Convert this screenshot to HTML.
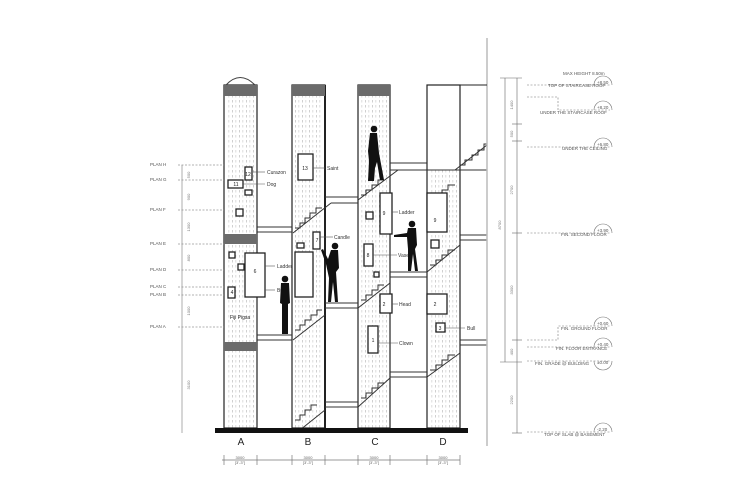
<!DOCTYPE html>
<html><head><meta charset="utf-8"><style>
html,body{margin:0;padding:0;background:#fff;width:750px;height:500px;overflow:hidden}
svg{display:block;font-family:"Liberation Sans",sans-serif}
</style></head><body>
<svg width="750" height="500" viewBox="0 0 750 500">
<defs>
<pattern id="dots" width="7" height="5" patternUnits="userSpaceOnUse">
<rect x="1" y="0" width=".7" height="2.5" fill="#bbb"/><rect x="4.5" y="0" width=".7" height="2.5" fill="#ccc"/>
</pattern>
</defs>
<g>
<rect x="227" y="96" width="28" height="332" fill="url(#dots)"/>
<rect x="295" y="96" width="28" height="332" fill="url(#dots)"/>
<rect x="361" y="96" width="27" height="332" fill="url(#dots)"/>
<rect x="430" y="170" width="28" height="258" fill="url(#dots)"/>
</g>
<g fill="none" stroke="#222" stroke-width="1.2">
<rect x="224" y="85" width="33" height="343"/>
<rect x="292" y="85" width="33" height="343"/>
<rect x="358" y="85" width="32" height="343"/>
<rect x="427" y="85" width="33" height="343"/>
</g>
<line x1="325" y1="85" x2="325" y2="428" stroke="#222" stroke-width="2"/>
<rect x="428" y="86" width="31" height="80" fill="#fff"/>
<path d="M226 85 Q240 70 255 85" fill="none" stroke="#444"/>
<g fill="#6b6b6b">
<rect x="224" y="85" width="33" height="11"/><rect x="292" y="85" width="33" height="11"/><rect x="358" y="85" width="32" height="11"/>
<rect x="224" y="234" width="33" height="10"/><rect x="224" y="342" width="33" height="9"/>
</g>
<g stroke="#333" stroke-width="1" fill="none">
<line x1="257" y1="227" x2="292" y2="227"/><line x1="257" y1="232" x2="292" y2="232"/>
<line x1="293" y1="233" x2="331" y2="203"/><line x1="331" y1="203" x2="358" y2="203"/>
<line x1="325" y1="197" x2="358" y2="197"/>
<line x1="358" y1="200" x2="398" y2="170"/><line x1="390" y1="170" x2="487" y2="170"/>
<line x1="390" y1="163" x2="427" y2="163"/>
<line x1="455" y1="170" x2="487" y2="145"/>
<polyline points="460,165 465,165 465,160 472,160 472,155 478,155 478,150 484,150 484,144 487,144"/>
<polyline points="295,228 300,228 300,223 305,223 305,218 310,218 310,213 316,213 316,208 322,208"/>
<polyline points="361,195 366,195 366,190 372,190 372,185 378,185 378,180 384,180"/>
<polyline points="430,200 436,200 436,195 442,195 442,190 448,190 448,185 455,185"/>
<line x1="257" y1="335" x2="292" y2="335"/><line x1="257" y1="340" x2="292" y2="340"/>
<line x1="293" y1="340" x2="325" y2="315"/>
<polyline points="295,330 300,330 300,325 305,325 305,320 311,320 311,315 317,315 317,310 322,310"/>
<line x1="325" y1="303" x2="358" y2="303"/><line x1="325" y1="308" x2="358" y2="308"/>
<line x1="358" y1="308" x2="390" y2="283"/>
<polyline points="361,300 366,300 366,295 372,295 372,290 378,290 378,285 384,285"/>
<line x1="390" y1="272" x2="427" y2="272"/><line x1="390" y1="277" x2="427" y2="277"/>
<line x1="427" y1="272" x2="460" y2="245"/>
<polyline points="430,265 436,265 436,260 442,260 442,255 448,255 448,250 455,250"/>
<line x1="460" y1="240" x2="487" y2="240"/><line x1="460" y1="235" x2="487" y2="235"/>
<line x1="300" y1="430" x2="325" y2="410"/>
<polyline points="295,420 300,420 300,415 305,415 305,410 311,410 311,405 317,405"/>
<line x1="325" y1="402" x2="358" y2="402"/><line x1="325" y1="407" x2="358" y2="407"/>
<line x1="358" y1="407" x2="390" y2="378"/>
<polyline points="361,398 366,398 366,393 372,393 372,388 378,388 378,383 384,383"/>
<line x1="390" y1="372" x2="427" y2="372"/><line x1="390" y1="377" x2="427" y2="377"/>
<line x1="427" y1="377" x2="460" y2="353"/>
<polyline points="430,370 436,370 436,365 442,365 442,360 448,360 448,355 455,355"/>
<line x1="460" y1="340" x2="487" y2="340"/><line x1="460" y1="345" x2="487" y2="345"/>
</g>
<g fill="#fff" stroke="#222" stroke-width="1.3">
<rect x="245" y="167" width="7" height="13"/><rect x="228" y="180" width="15" height="8"/><rect x="245" y="190" width="7" height="5"/>
<rect x="236" y="209" width="7" height="7"/><rect x="229" y="252" width="6" height="6"/>
<rect x="245" y="253" width="20" height="44"/><rect x="238" y="264" width="6" height="6"/><rect x="228" y="287" width="7" height="11"/>
<rect x="298" y="154" width="15" height="26"/><rect x="313" y="232" width="7" height="17"/><rect x="297" y="243" width="7" height="5"/>
<rect x="295" y="252" width="18" height="45"/>
<rect x="380" y="193" width="12" height="41"/><rect x="366" y="212" width="7" height="7"/><rect x="364" y="244" width="9" height="22"/>
<rect x="374" y="272" width="5" height="5"/><rect x="380" y="294" width="12" height="19"/><rect x="368" y="326" width="10" height="27"/>
<rect x="427" y="193" width="20" height="39"/><rect x="431" y="240" width="8" height="8"/>
<rect x="427" y="294" width="20" height="20"/><rect x="436" y="323" width="9" height="9"/>
</g>
<g font-size="5" fill="#222" text-anchor="middle">
<text x="248" y="176">12</text><text x="236" y="186">11</text><text x="255" y="273">6</text><text x="232" y="294">4</text>
<text x="305" y="170">13</text><text x="317" y="242">7</text><text x="384" y="215">9</text><text x="368" y="257">8</text>
<text x="384" y="306">2</text><text x="373" y="342">1</text><text x="435" y="222">9</text><text x="435" y="306">2</text><text x="440" y="330">3</text>
<text x="240" y="319">Fiji Pigsa</text>
</g>
<g stroke="#555" stroke-width=".6">
<line x1="253" y1="172" x2="265" y2="172"/><line x1="243" y1="184" x2="265" y2="184"/><line x1="265" y1="266" x2="275" y2="266"/><line x1="265" y1="290" x2="275" y2="290"/>
<line x1="313" y1="168" x2="325" y2="168"/><line x1="320" y1="237" x2="333" y2="237"/><line x1="392" y1="212" x2="398" y2="212"/><line x1="373" y1="255" x2="397" y2="255"/>
<line x1="392" y1="304" x2="398" y2="304"/><line x1="378" y1="343" x2="398" y2="343"/><line x1="445" y1="328" x2="465" y2="328"/>
</g>
<g font-size="5" fill="#333">
<text x="267" y="174">Curazon</text><text x="267" y="186">Dog</text><text x="277" y="268">Ladder</text><text x="277" y="292">Bull</text>
<text x="327" y="170">Saint</text><text x="334" y="239">Candle</text><text x="399" y="214">Ladder</text><text x="398" y="257">Vase</text>
<text x="399" y="306">Head</text><text x="399" y="345">Clown</text><text x="467" y="330">Bull</text>
</g>
<g fill="#111">
<circle cx="285" cy="279" r="3.3"/><path d="M281 283h8l1 20-2 1v30h-6v-30l-2-1z"/>
<circle cx="335" cy="246" r="3.3"/><path d="M331 250h7l1 18-3 4 2 30h-3l-2-20-2 20h-3l1-24-3-14-5-14 2-1 5 10z"/>
<circle cx="374" cy="129" r="3.3"/><path d="M370 133h7l2 20 5 27h-4l-3-18-2 6-1 13h-6l1-20-1-10z"/>
<circle cx="412" cy="224" r="3.3"/><path d="M408 228h8l1 17-2 4 3 22h-3l-2-17-2 17h-3l0-22-1-12-13 0 0-2 13-2z"/>
</g>
<rect x="215" y="428" width="253" height="5" fill="#111"/>
<g font-size="10" fill="#222" text-anchor="middle">
<text x="241" y="445">A</text><text x="308" y="445">B</text><text x="375" y="445">C</text><text x="443" y="445">D</text>
</g>
<g stroke="#777" stroke-width=".7">
<line x1="222" y1="460" x2="460" y2="460"/>
<line x1="224" y1="455" x2="224" y2="465"/><line x1="257" y1="455" x2="257" y2="465"/><line x1="292" y1="455" x2="292" y2="465"/><line x1="325" y1="455" x2="325" y2="465"/>
<line x1="358" y1="455" x2="358" y2="465"/><line x1="390" y1="455" x2="390" y2="465"/><line x1="427" y1="455" x2="427" y2="465"/><line x1="460" y1="455" x2="460" y2="465"/>
</g>
<g font-size="4" fill="#666" text-anchor="middle">
<text x="240" y="459">3000</text><text x="240" y="464">[3'-3"]</text><text x="308" y="459">3000</text><text x="308" y="464">[3'-3"]</text>
<text x="374" y="459">3000</text><text x="374" y="464">[3'-3"]</text><text x="443" y="459">3000</text><text x="443" y="464">[3'-3"]</text>
</g>
<g stroke="#666" stroke-width=".6" stroke-dasharray="2 1.5">
<line x1="178" y1="165" x2="224" y2="165"/><line x1="178" y1="180" x2="224" y2="180"/><line x1="178" y1="210" x2="224" y2="210"/>
<line x1="178" y1="244" x2="224" y2="244"/><line x1="178" y1="270" x2="224" y2="270"/><line x1="178" y1="287" x2="224" y2="287"/>
<line x1="178" y1="295" x2="224" y2="295"/><line x1="178" y1="327" x2="224" y2="327"/>
</g>
<line x1="182" y1="165" x2="182" y2="433" stroke="#777" stroke-width=".6"/>
<g font-size="4.5" fill="#555">
<text x="150" y="166">PLAN H</text><text x="150" y="181">PLAN G</text><text x="150" y="211">PLAN F</text><text x="150" y="245">PLAN E</text>
<text x="150" y="271">PLAN D</text><text x="150" y="288">PLAN C</text><text x="150" y="296">PLAN B</text><text x="150" y="328">PLAN A</text>
</g>
<g font-size="4" fill="#777" text-anchor="middle">
<text transform="translate(190,175) rotate(-90)">500</text><text transform="translate(190,197) rotate(-90)">900</text><text transform="translate(190,227) rotate(-90)">1300</text>
<text transform="translate(190,258) rotate(-90)">800</text><text transform="translate(190,311) rotate(-90)">1000</text><text transform="translate(190,385) rotate(-90)">3100</text>
</g>
<line x1="487" y1="38" x2="487" y2="446" stroke="#bbb" stroke-width="1.5"/>
<line x1="427" y1="85" x2="487" y2="85" stroke="#222"/>
<line x1="427" y1="85" x2="427" y2="170" stroke="#222"/>
<g stroke="#666" stroke-width=".6">
<line x1="505" y1="78" x2="505" y2="362"/><line x1="517" y1="78" x2="517" y2="433"/>
<line x1="500" y1="78" x2="522" y2="78"/><line x1="500" y1="362" x2="522" y2="362"/><line x1="512" y1="433" x2="522" y2="433"/>
<line x1="512" y1="124" x2="522" y2="124"/><line x1="512" y1="141" x2="522" y2="141"/><line x1="512" y1="233" x2="522" y2="233"/><line x1="512" y1="340" x2="522" y2="340"/>
</g>
<g stroke="#777" stroke-width=".6" stroke-dasharray="2 1.5" fill="none">
<line x1="527" y1="85" x2="610" y2="85"/><polyline points="527,97 558,97 558,110 610,110"/><line x1="527" y1="147" x2="610" y2="147"/>
<line x1="527" y1="233" x2="610" y2="233"/><polyline points="527,340 558,340 558,326 610,326"/><line x1="527" y1="347" x2="610" y2="347"/>
<line x1="527" y1="361" x2="610" y2="361"/><line x1="527" y1="432" x2="610" y2="432"/>
</g>
<g fill="none" stroke="#777" stroke-width=".6">
<path d="M594 85 A8 8 0 0 1 612 85"/><path d="M594 110 A8 8 0 0 1 612 110"/><path d="M594 147 A8 8 0 0 1 612 147"/>
<path d="M594 233 A8 8 0 0 1 612 233"/><path d="M594 326 A8 8 0 0 1 612 326"/><path d="M594 347 A8 8 0 0 1 612 347"/>
<path d="M594 361 A8 8 0 0 0 612 361"/><path d="M594 432 A8 8 0 0 1 612 432"/>
</g>
<g font-size="4.5" fill="#555">
<text x="563" y="75">MAX HEIGHT 8.50m</text>
<text x="548" y="87">TOP OF STAIRCASE ROOF</text><text x="540" y="114">UNDER THE STAIRCASE ROOF</text><text x="562" y="150">UNDER THE CEILING</text>
<text x="561" y="236">FIN. SECOND FLOOR</text><text x="561" y="330">FIN. GROUND FLOOR</text><text x="556" y="350">FIN. FLOOR ENTRANCE</text>
<text x="535" y="365">FIN. GRADE @ BUILDING</text><text x="544" y="436">TOP OF SLAB @ BASEMENT</text>
<text x="597" y="84">+8.50</text><text x="597" y="109">+8.20</text><text x="597" y="146">+6.80</text><text x="597" y="232">+3.90</text>
<text x="597" y="325">+0.60</text><text x="597" y="346">+0.40</text><text x="597" y="364">±0.00</text><text x="597" y="431">-2.20</text>
</g>
<g font-size="4" fill="#777" text-anchor="middle">
<text transform="translate(513,105) rotate(-90)">1400</text><text transform="translate(513,134) rotate(-90)">500</text>
<text transform="translate(513,190) rotate(-90)">2700</text><text transform="translate(513,290) rotate(-90)">3300</text>
<text transform="translate(513,352) rotate(-90)">400</text><text transform="translate(513,400) rotate(-90)">2200</text>
<text transform="translate(501,225) rotate(-90)">8700</text>
</g>
</svg>
</body></html>
